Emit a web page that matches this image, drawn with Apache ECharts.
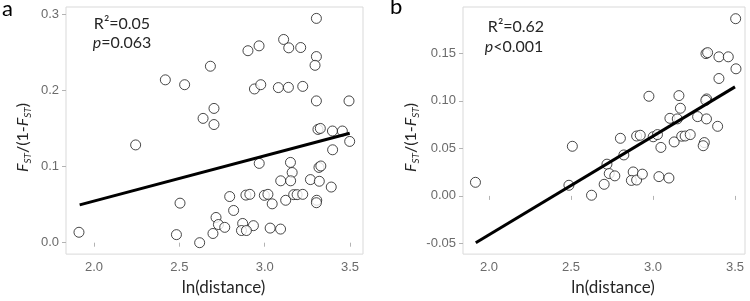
<!DOCTYPE html>
<html>
<head>
<meta charset="utf-8">
<script src="https://cdn.jsdelivr.net/npm/echarts@6/dist/echarts.min.js"></script>
<style>
  html, body { margin: 0; padding: 0; background: #fff; }
  #chart { width: 750px; height: 301px; }
</style>
</head>
<body>
<div id="chart"></div>
<script>
// panel a: ln(distance) vs Fst/(1-Fst)
const distA = [1.912, 2.244, 2.418, 2.531, 2.504, 2.483, 3.303, 2.902, 2.967, 3.111, 3.141, 3.211, 3.303, 3.295,
  2.682, 2.940, 2.977, 3.080, 3.139, 3.223, 3.303, 3.494, 2.703, 2.639, 2.703, 3.312, 3.326, 3.397, 3.455, 3.498,
  3.398, 2.968, 3.151, 3.161, 3.094, 3.152, 3.318, 3.329, 3.268, 3.320, 3.390, 2.795, 2.890, 2.913, 2.998, 3.019,
  3.044, 3.123, 3.170, 3.190, 3.223, 3.305, 3.303, 2.818, 2.715, 2.729, 2.766, 2.697, 2.619, 2.871, 2.934, 2.864,
  2.893, 3.032, 3.093]
const fstA = [0.0137, 0.1286, 0.2142, 0.2078, 0.0520, 0.0106, 0.2950, 0.2525, 0.2589, 0.2673, 0.2563, 0.2567, 0.2448, 0.2333,
  0.2321, 0.2022, 0.2078, 0.2040, 0.2043, 0.2056, 0.1865, 0.1865, 0.1766, 0.1635, 0.1554, 0.1490, 0.1503, 0.1469, 0.1469, 0.1332,
  0.1222, 0.1043, 0.1056, 0.0923, 0.0814, 0.0814, 0.0990, 0.1009, 0.0830, 0.0808, 0.0732, 0.0607, 0.0626, 0.0636, 0.0623, 0.0636,
  0.0511, 0.0558, 0.0632, 0.0632, 0.0636, 0.0558, 0.0526, 0.0424, 0.0332, 0.0239, 0.0202, 0.0121, 0.0000, 0.0253, 0.0224, 0.0160,
  0.0160, 0.0192, 0.0179]
const fitAx = [1.916, 3.498]
const fitAy = [0.0498, 0.144]

// panel b
const distB = [1.917, 3.504, 3.323, 3.333, 3.402, 3.459, 3.506, 3.402, 2.975, 3.158, 3.167, 3.327, 3.322, 3.103, 3.148,
  3.272, 3.326, 3.394, 2.801, 2.900, 2.922, 3.001, 3.027, 3.048, 3.129, 3.175, 3.196, 3.227, 3.313, 3.306,
  2.822, 2.719, 2.733, 2.767, 2.879, 2.868, 2.900, 2.935, 3.036, 3.097, 2.702, 2.625, 2.487, 2.508]
const fstB = [0.0143, 0.1864, 0.1497, 0.1507, 0.1463, 0.1463, 0.1337, 0.1235, 0.1048, 0.1055, 0.0922, 0.1020, 0.1005, 0.0816, 0.0810,
  0.0834, 0.0810, 0.0732, 0.0606, 0.0630, 0.0638, 0.0622, 0.0645, 0.0510, 0.0568, 0.0628, 0.0630, 0.0645, 0.0561, 0.0528,
  0.0431, 0.0334, 0.0235, 0.0211, 0.0252, 0.0163, 0.0167, 0.0229, 0.0203, 0.0188, 0.0122, 0.0007, 0.0112, 0.0522]
const fitBx = [1.919, 3.500]
const fitBy = [-0.0493, 0.1147]

const xTicks = [2.0, 2.5, 3.0, 3.5]
const yTicksA = [0, 0.1, 0.2, 0.3]
const yTicksB = [-0.05, 0, 0.05, 0.1, 0.15]

const zip = (xs, ys) => xs.map((x, i) => [x, ys[i]])

const labelFont = 'Liberation Sans'
const titleFont = 'Lato'
const yName = '{f|F}{s|ST}{n|/(1-}{f|F}{s|ST}{n|)}'
const yNameStyle = {
  fontFamily: titleFont,
  color: '#262626',
  padding: [0, 14, 0, 0],
  rich: {
    f: { fontFamily: titleFont, fontSize: 16, fontStyle: 'italic', color: '#262626', lineHeight: 20 },
    n: { fontFamily: titleFont, fontSize: 16, color: '#262626', lineHeight: 20 },
    s: { fontFamily: titleFont, fontSize: 10, fontStyle: 'italic', color: '#262626', lineHeight: 10, verticalAlign: 'bottom' },
  },
}

function xAxisFor(gridIndex, min, max) {
  return {
    gridIndex,
    type: 'value',
    min,
    max,
    name: 'ln(distance)',
    nameLocation: 'middle',
    nameGap: 18,
    nameTextStyle: { fontFamily: titleFont, fontSize: 17, color: '#262626', padding: [0, 0, 0, 18] },
    axisLine: { show: false },
    axisTick: { show: true, length: 4, customValues: xTicks, lineStyle: { color: '#b3b3b3' } },
    axisLabel: {
      customValues: xTicks,
      formatter: (v) => v.toFixed(1),
      fontFamily: labelFont,
      fontSize: 13,
      color: '#6b6b6b',
      margin: 7,
    },
    splitLine: { show: false },
  }
}

function yAxisFor(gridIndex, min, max, ticks, digits, gap) {
  return {
    gridIndex,
    type: 'value',
    min,
    max,
    name: yName,
    nameLocation: 'middle',
    nameGap: gap,
    nameTextStyle: yNameStyle,
    axisLine: { show: false },
    axisTick: { show: true, length: 4, customValues: ticks, lineStyle: { color: '#b3b3b3' } },
    axisLabel: {
      customValues: ticks,
      formatter: (v) => v.toFixed(digits),
      fontFamily: labelFont,
      fontSize: 13,
      color: '#6b6b6b',
      margin: 7,
    },
    splitLine: { show: false },
  }
}

const pointStyle = { color: '#ffffff', borderColor: '#1a1a1a', borderWidth: 1 }

const option = {
  animation: false,
  backgroundColor: '#ffffff',
  grid: [
    { left: 66, top: 7, width: 297, height: 255, show: true, borderColor: '#d9d9d9', borderWidth: 1 },
    { left: 463, top: 7, width: 282, height: 255, show: true, borderColor: '#d9d9d9', borderWidth: 1 },
  ],
  xAxis: [
    xAxisFor(0, 1.836, 3.576),
    xAxisFor(1, 1.841, 3.561),
  ],
  yAxis: [
    yAxisFor(0, -0.015, 0.31, yTicksA, 1, 33),
    yAxisFor(1, -0.0612, 0.1987, yTicksB, 2, 42),
  ],
  series: [
    {
      type: 'scatter', xAxisIndex: 0, yAxisIndex: 0,
      data: zip(distA, fstA), symbol: 'circle', symbolSize: 10, itemStyle: pointStyle, z: 2,
    },
    {
      type: 'line', xAxisIndex: 0, yAxisIndex: 0,
      data: zip(fitAx, fitAy), showSymbol: false, lineStyle: { color: '#000', width: 3 }, z: 3,
    },
    {
      type: 'scatter', xAxisIndex: 1, yAxisIndex: 1,
      data: zip(distB, fstB), symbol: 'circle', symbolSize: 10, itemStyle: pointStyle, z: 2,
    },
    {
      type: 'line', xAxisIndex: 1, yAxisIndex: 1,
      data: zip(fitBx, fitBy), showSymbol: false, lineStyle: { color: '#000', width: 3 }, z: 3,
    },
  ],
  graphic: [
    { type: 'text', left: 2, top: -2, style: { text: 'a', font: '22px Lato', fill: '#000' } },
    { type: 'text', left: 390, top: -4, style: { text: 'b', font: '22px Lato', fill: '#000' } },
    {
      type: 'text', x: 122, y: 24,
      style: { text: 'R²=0.05', font: '16px Lato', fill: '#262626', align: 'center', verticalAlign: 'middle' },
    },
    {
      type: 'text', x: 122, y: 43,
      style: {
        text: '{i|p}{n|=0.063}', align: 'center', verticalAlign: 'middle',
        rich: {
          i: { font: 'italic 16px Lato', fill: '#262626' },
          n: { font: '16px Lato', fill: '#262626' },
        },
      },
    },
    {
      type: 'text', x: 516, y: 27,
      style: { text: 'R²=0.62', font: '16px Lato', fill: '#262626', align: 'center', verticalAlign: 'middle' },
    },
    {
      type: 'text', x: 514, y: 47,
      style: {
        text: '{i|p}{n|<0.001}', align: 'center', verticalAlign: 'middle',
        rich: {
          i: { font: 'italic 16px Lato', fill: '#262626' },
          n: { font: '16px Lato', fill: '#262626' },
        },
      },
    },
  ],
}

const chart = echarts.init(document.getElementById('chart'), null, { renderer: 'canvas' })
chart.setOption(option)
</script>
</body>
</html>
